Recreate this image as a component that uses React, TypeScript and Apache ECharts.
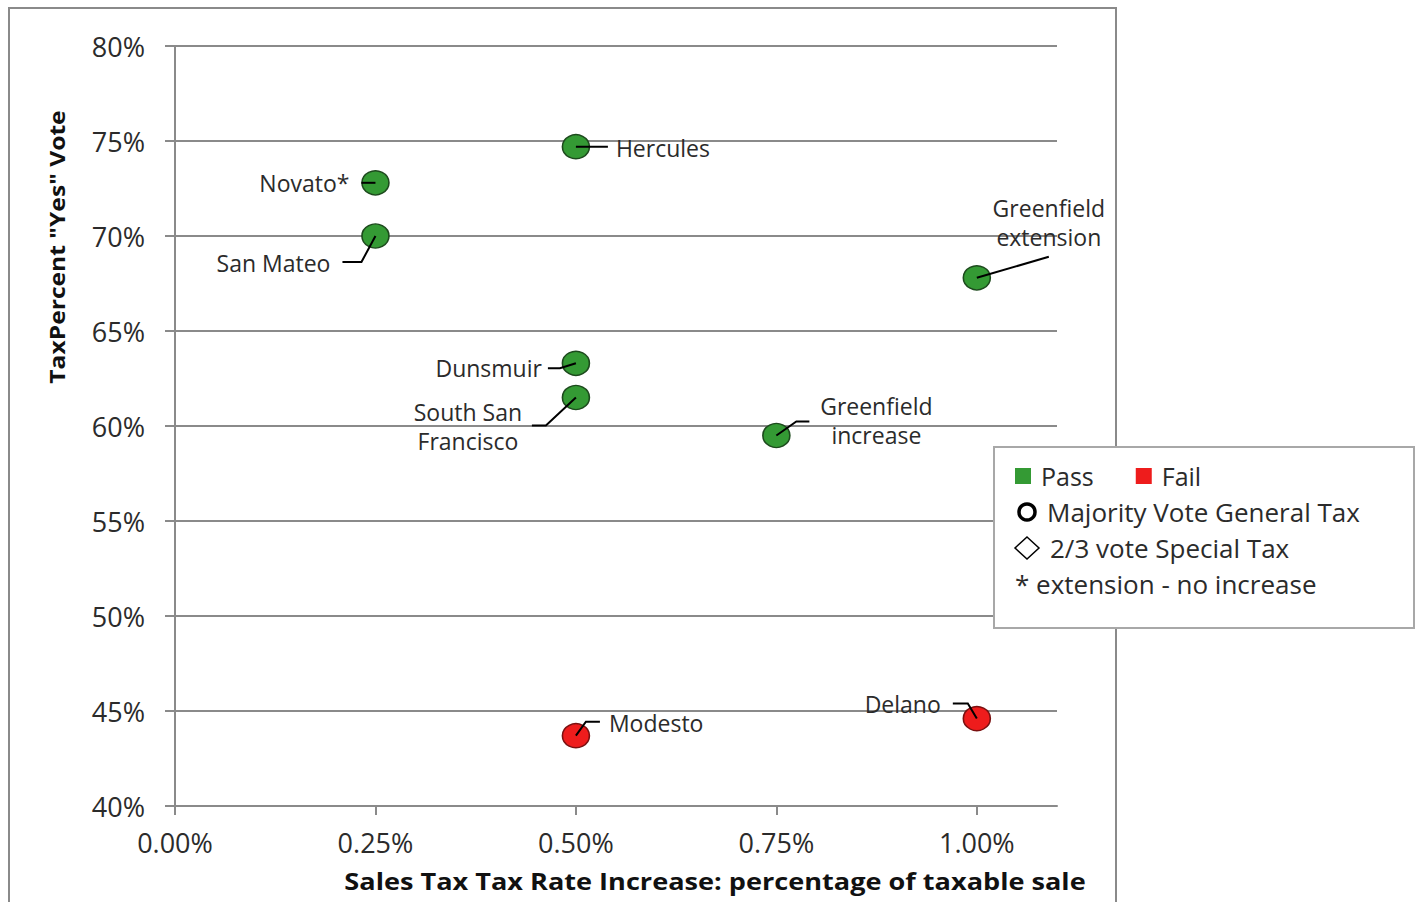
import React, { useEffect, useRef } from "react";
import * as echarts from "echarts";

// ---------- data ----------
const cities = [
  "Hercules",
  "Novato*",
  "San Mateo",
  "Greenfield\nextension",
  "Dunsmuir",
  "South San\nFrancisco",
  "Greenfield\nincrease",
  "Modesto",
  "Delano",
];
const rateIncrease = [0.005, 0.0025, 0.0025, 0.01, 0.005, 0.005, 0.0075, 0.005, 0.01];
const yesVote = [0.747, 0.728, 0.7, 0.678, 0.633, 0.615, 0.595, 0.437, 0.446];
const outcome = ["Pass", "Pass", "Pass", "Pass", "Pass", "Pass", "Pass", "Fail", "Fail"];
const xTicks = [0, 0.0025, 0.005, 0.0075, 0.01];
const legendNotes = ["Majority Vote General Tax", "2/3 vote Special Tax", "* extension - no increase"];

// ---------- label layout (pixel offsets from the point) ----------
const labelLayout: { line: number[][]; text: number[]; align: string }[] = [
  { line: [[0, 0], [32, 0]], text: [40, 1], align: "left" },
  { line: [[0, 0], [-14, 0]], text: [-26, 0], align: "right" },
  { line: [[0, 0], [-14, 26], [-33, 26]], text: [-45, 27], align: "right" },
  { line: [[0, 0], [72, -21]], text: [72, -55], align: "center" },
  { line: [[0, 0], [-16, 5], [-28, 5]], text: [-34, 5], align: "right" },
  { line: [[0, 0], [-30, 28], [-44, 28]], text: [-108, 29], align: "center" },
  { line: [[0, 0], [20, -14], [33, -14]], text: [100, -15], align: "center" },
  { line: [[0, 0], [10, -14], [24, -14]], text: [33, -13], align: "left" },
  { line: [[0, 0], [-9, -15], [-24, -15]], text: [-36, -15], align: "right" },
];

const FONT = "'Open Sans', 'DejaVu Sans', sans-serif";
const GRID = "#8a8a8a";
const TXT = "#2b2b2b";
const PASS = "#349a34";
const FAIL = "#ee1c1c";

export default function App() {
  const ref = useRef<HTMLDivElement>(null);
  useEffect(() => {
    const chart = echarts.init(ref.current!, null, { renderer: "svg" });
    const mk = (kind: string) =>
      cities
        .map((c, i) => ({ c, i }))
        .filter(({ i }) => outcome[i] === kind)
        .map(({ c, i }) => ({ name: c, value: [rateIncrease[i], yesVote[i]] }));

    chart.setOption({
      animation: false,
      backgroundColor: "#fff",
      textStyle: { fontFamily: FONT },
      grid: { left: 175, right: 362, top: 46, bottom: 96 },
      xAxis: {
        type: "value",
        min: 0,
        max: 0.011,
        interval: 0.0025,
        axisLine: { show: true, lineStyle: { color: GRID, width: 2 } },
        axisTick: { show: true, length: 9, lineStyle: { color: GRID, width: 2 }, customValues: xTicks },
        axisLabel: {
          customValues: xTicks,
          margin: 23,
          fontSize: 27,
          color: TXT,
          fontFamily: FONT,
          formatter: (v: number) => (v * 100).toFixed(2) + "%",
        },
        splitLine: { show: false },
      },
      yAxis: {
        type: "value",
        min: 0.4,
        max: 0.8,
        interval: 0.05,
        axisLine: { show: true, lineStyle: { color: GRID, width: 2 } },
        axisTick: { show: true, length: 10, lineStyle: { color: GRID, width: 2 } },
        axisLabel: {
          margin: 30,
          fontSize: 27,
          color: TXT,
          fontFamily: FONT,
          formatter: (v: number) => Math.round(v * 100) + "%",
        },
        splitLine: { show: true, lineStyle: { color: GRID, width: 2 } },
      },
      legend: {
        data: ["Pass", "Fail"],
        left: 1015,
        top: 463,
        icon: "rect",
        itemWidth: 16,
        itemHeight: 16,
        itemGap: 42,
        padding: 0,
        z: 20,
        itemStyle: { borderWidth: 0, opacity: 1 },
        textStyle: { fontSize: 25, color: TXT, fontFamily: FONT, lineHeight: 26, padding: [0, 0, 0, 5] },
      },
      series: [
        {
          name: "Pass",
          type: "scatter",
          symbol: "circle",
          symbolSize: [27, 24],
          itemStyle: { color: PASS, borderColor: "#1d4a1d", borderWidth: 1.5, opacity: 1 },
          data: mk("Pass"),
        },
        {
          name: "Fail",
          type: "scatter",
          symbol: "circle",
          symbolSize: [27, 24],
          itemStyle: { color: FAIL, borderColor: "#7a1010", borderWidth: 1.5, opacity: 1 },
          data: mk("Fail"),
        },
      ],
    });

    const graphics: any[] = [
      {
        type: "rect",
        z: -1,
        silent: true,
        shape: { x: 9, y: 8, width: 1107, height: 1000 },
        style: { fill: "none", stroke: GRID, lineWidth: 2 },
      },
      {
        type: "text",
        x: 715,
        y: 881,
        scaleX: 1.13,
        style: {
          text: "Sales Tax Tax Rate Increase: percentage of taxable sale",
          fontSize: 24,
          fontWeight: "bold",
          fontFamily: FONT,
          fill: "#111",
          textAlign: "center",
          textVerticalAlign: "middle",
        },
      },
      {
        type: "text",
        x: 57,
        y: 247,
        rotation: Math.PI / 2,
        scaleX: 1.12,
        style: {
          text: 'TaxPercent "Yes" Vote',
          fontSize: 22,
          fontWeight: "bold",
          fontFamily: FONT,
          fill: "#111",
          textAlign: "center",
          textVerticalAlign: "middle",
        },
      },
      // legend box
      {
        type: "rect",
        z: 10,
        shape: { x: 994, y: 447, width: 420, height: 181 },
        style: { fill: "#fff", stroke: "#a8a8a8", lineWidth: 2 },
      },
      {
        type: "circle",
        z: 20,
        shape: { cx: 1027, cy: 512, r: 8 },
        style: { fill: "none", stroke: "#000", lineWidth: 3.5 },
      },
      {
        type: "polygon",
        z: 20,
        shape: { points: [[1027, 537], [1039, 548], [1027, 559], [1015, 548]] },
        style: { fill: "none", stroke: "#000", lineWidth: 1.5 },
      },
      {
        type: "text",
        z: 20,
        x: 1047,
        y: 512,
        style: { text: legendNotes[0], fontSize: 26, fontFamily: FONT, fill: TXT, textVerticalAlign: "middle" },
      },
      {
        type: "text",
        z: 20,
        x: 1050,
        y: 548,
        style: { text: legendNotes[1], fontSize: 26, fontFamily: FONT, fill: TXT, textVerticalAlign: "middle" },
      },
      {
        type: "text",
        z: 20,
        x: 1015,
        y: 584,
        style: { text: legendNotes[2], fontSize: 26, fontFamily: FONT, fill: TXT, textVerticalAlign: "middle" },
      },
    ];

    cities.forEach((c, i) => {
      const [px, py] = chart.convertToPixel({ gridIndex: 0 }, [rateIncrease[i], yesVote[i]]) as number[];
      const L = labelLayout[i];
      graphics.push({
        type: "polyline",
        z: 10,
        silent: true,
        shape: { points: L.line.map(([dx, dy]) => [px + dx, py + dy]) },
        style: { stroke: "#000", lineWidth: 2, fill: "none" },
      });
      graphics.push({
        type: "text",
        z: 10,
        x: px + L.text[0],
        y: py + L.text[1],
        style: {
          text: c,
          fontSize: 23,
          fontFamily: FONT,
          fill: TXT,
          textAlign: L.align,
          textVerticalAlign: "middle",
          lineHeight: 29,
        },
      });
    });

    chart.setOption({ graphic: graphics });
    return () => chart.dispose();
  }, []);

  return (
    <div
      ref={ref}
      style={{ position: "fixed", left: 0, top: 0, width: 1419, height: 902, background: "#fff" }}
    />
  );
}
